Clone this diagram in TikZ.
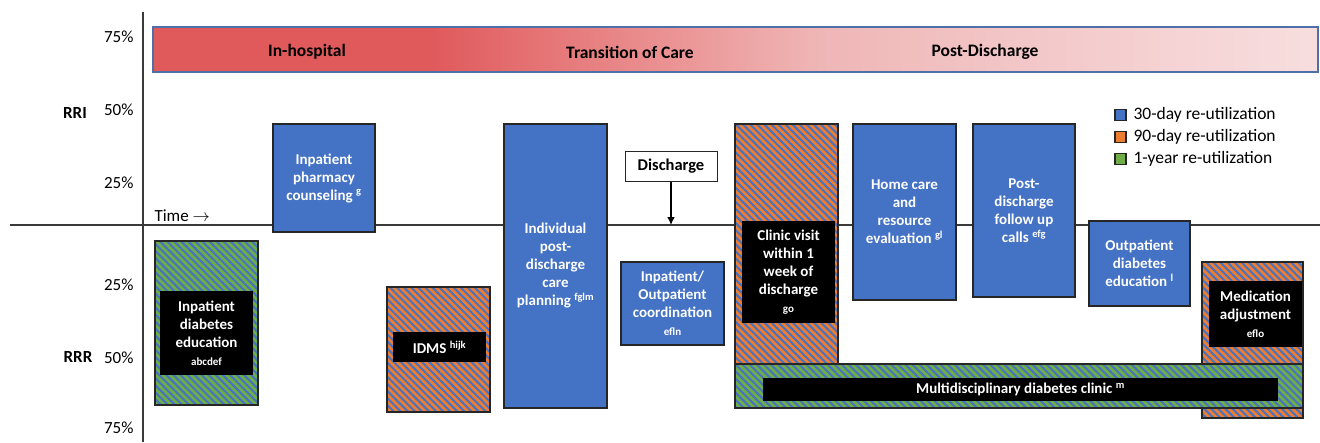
\documentclass[tikz,border=0pt]{standalone}
\usepackage{fontspec}
\setmainfont{Carlito}
\usetikzlibrary{patterns.meta,arrows.meta}

\definecolor{rublue}{HTML}{4472C4}
\definecolor{ruorange}{HTML}{ED7D31}
\definecolor{rugreen}{HTML}{70AD47}
\definecolor{edge}{HTML}{262626}
\definecolor{axisline}{HTML}{3A3A3A}
\definecolor{hosred}{HTML}{E05A5C}
\definecolor{hosmid}{HTML}{EC9A9B}
\definecolor{hoslight}{HTML}{EFB6B6}
\definecolor{hospale}{HTML}{F6D5D6}
\definecolor{hospink}{HTML}{F7DEDE}
\definecolor{bannerline}{HTML}{4F6FA8}
\pgfdeclarehorizontalshading{phase}{100bp}{color(0bp)=(hosred); color(37bp)=(hosred); color(48.5bp)=(hosmid); color(53.6bp)=(hoslight); color(70bp)=(hospale); color(75bp)=(hospink); color(100bp)=(hospink)}

\begin{document}
\begin{tikzpicture}[x=1pt,y=-1pt,
    bnode/.style={draw=edge,line width=1.2pt,fill=rublue,text=white,align=center,inner sep=0pt,font=\fontsize{15}{18}\selectfont\bfseries},
    hatch/.style={draw=edge,line width=1.2pt,pattern={Lines[angle=-45,distance=5pt,line width=2pt]},pattern color=rublue,inner sep=0pt},
    onode/.style={hatch,preaction={fill=ruorange}},
    gnode/.style={hatch,preaction={fill=rugreen}},
    knode/.style={fill=black,text=white,align=center,inner sep=0pt,font=\fontsize{15}{18}\selectfont\bfseries},
    lbl/.style={font=\fontsize{17}{20}\selectfont},
    keybox/.style={draw=edge,line width=1.2pt,minimum size=11pt,inner sep=0pt}]
    \useasboundingbox (0,0) rectangle (1320,442);

    \node[draw=bannerline,line width=1.5pt,shading=phase,minimum width=1165pt,minimum height=45pt] (banner) at (735.5,49.5) {};
    \node[font=\fontsize{17.5}{20}\selectfont\bfseries] (hosp) at (307,52) {In-hospital};
    \node[font=\fontsize{17.5}{20}\selectfont\bfseries] (toc) at (630,52) {Transition of Care};
    \node[font=\fontsize{17.5}{20}\selectfont\bfseries] (post) at (985,52) {Post-Discharge};

    \coordinate (ytop) at (143,12);
    \coordinate (ybot) at (143,442);
    \coordinate (xleft) at (10,225);
    \coordinate (xright) at (1320,225);
    \draw[axisline,line width=1.3pt] (ytop) -- (ybot);
    \draw[axisline,line width=1.3pt] (xleft) -- (xright);

    \node[lbl,anchor=east] (u75) at (137,37) {75\%};
    \node[lbl,anchor=east] (u50) at (137,110) {50\%};
    \node[lbl,anchor=east] (u25) at (137,183) {25\%};
    \node[lbl,anchor=east] (d25) at (137,285) {25\%};
    \node[lbl,anchor=east] (d50) at (137,358) {50\%};
    \node[lbl,anchor=east] (d75) at (137,428) {75\%};
    \node[lbl,font=\fontsize{17}{20}\selectfont\bfseries] (rri) at (75,113) {RRI};
    \node[lbl,font=\fontsize{17}{20}\selectfont\bfseries] (rrr) at (78,357) {RRR};
    \node[lbl,anchor=west] (time) at (151,216) {Time $\rightarrow$};

    \node[bnode,minimum width=102pt,minimum height=108pt] (pharm) at (324,178) {Inpatient\\pharmacy\\counseling \textsuperscript{g}};

    \node[gnode,minimum width=103pt,minimum height=164pt] (ide) at (206.5,323) {};
    \node[knode,minimum width=93pt,minimum height=84pt] (idetxt) at (206.5,333) {Inpatient\\diabetes\\education\\{\fontsize{11}{10}\selectfont abcdef}};

    \node[onode,minimum width=103pt,minimum height=125pt] (idms) at (438.5,349.5) {};
    \node[knode,minimum width=93pt,minimum height=30pt] (idmstxt) at (439.5,347) {IDMS \textsuperscript{hijk}};

    \node[bnode,minimum width=103pt,minimum height=284pt] (plan) at (555.5,266) {Individual\\post-\\discharge\\care\\planning \textsuperscript{fglm}};

    \node[draw=edge,line width=1pt,fill=white,minimum width=92pt,minimum height=30pt,font=\fontsize{16.5}{18}\selectfont\bfseries] (disch) at (671,166) {Discharge};
    \coordinate (dtip) at (671,225);
    \draw[line width=1.8pt,-{Latex[length=8pt,width=8pt]}] (disch) -- (dtip);

    \node[bnode,minimum width=103pt,minimum height=83pt] (coord) at (672.5,303.5) {Inpatient/\\Outpatient\\coordination\\{\fontsize{11}{10}\selectfont efln}};

    \node[onode,minimum width=103pt,minimum height=241pt] (clinic) at (786.5,244.5) {};
    \node[knode,minimum width=93pt,minimum height=102pt] (clinictxt) at (788.5,272) {Clinic visit\\within 1\\week of\\discharge\\{\fontsize{11}{10}\selectfont go}};

    \node[bnode,minimum width=103pt,minimum height=176pt] (home) at (904.5,212) {Home care\\and\\resource\\evaluation \textsuperscript{gl}};
    \node[bnode,minimum width=102pt,minimum height=173pt] (calls) at (1024,210.5) {Post-\\discharge\\follow up\\calls \textsuperscript{efg}};
    \node[bnode,minimum width=101pt,minimum height=85pt] (oed) at (1139.5,263.5) {Outpatient\\diabetes\\education \textsuperscript{l}};

    \node[onode,minimum width=101pt,minimum height=156pt] (med) at (1252.5,340) {};
    \node[knode,minimum width=93pt,minimum height=66pt] (medtxt) at (1255.5,314) {Medication\\adjustment\\{\fontsize{11}{10}\selectfont eflo}};

    \node[gnode,minimum width=568pt,minimum height=44pt] (multi) at (1019,386) {};
    \node[knode,minimum width=515pt,minimum height=23pt] (multitxt) at (1020.5,389.5) {Multidisciplinary diabetes clinic \textsuperscript{m}};

    \node[keybox,fill=rublue] (k30) at (1120.5,115) {};
    \node[keybox,fill=ruorange] (k90) at (1120.5,137) {};
    \node[keybox,fill=rugreen] (k1y) at (1120.5,159) {};
    \node[font=\fontsize{17.5}{20}\selectfont,anchor=west] (t30) at (1130,115) {30-day re-utilization};
    \node[font=\fontsize{17.5}{20}\selectfont,anchor=west] (t90) at (1130,137) {90-day re-utilization};
    \node[font=\fontsize{17.5}{20}\selectfont,anchor=west] (t1y) at (1130,159) {1-year re-utilization};
\end{tikzpicture}
\end{document}
